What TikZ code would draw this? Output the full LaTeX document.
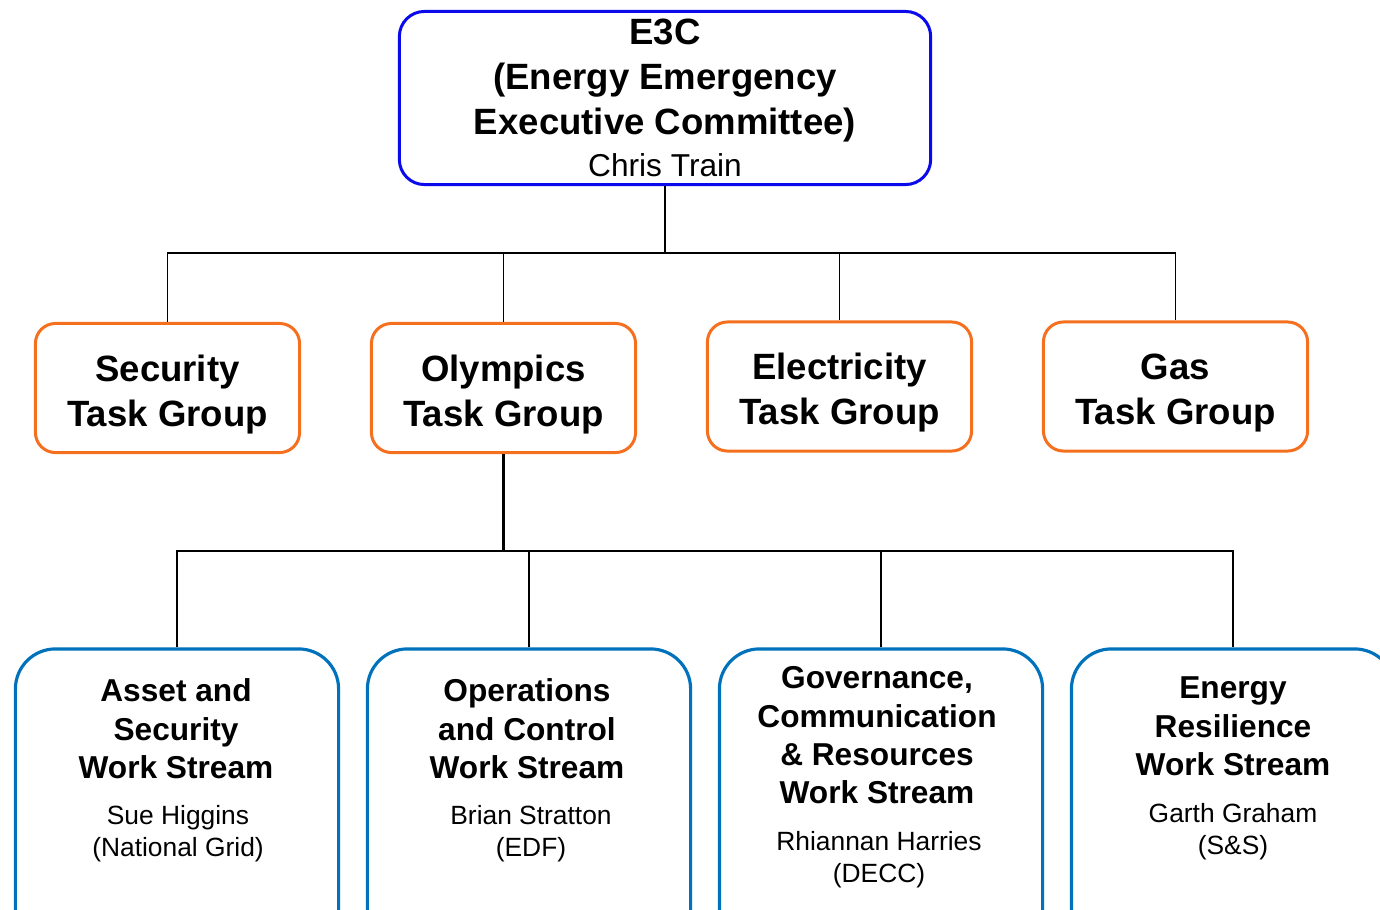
\documentclass[tikz,border=0pt]{standalone}
\usepackage{fontspec}
\setmainfont{Liberation Sans}
\usetikzlibrary{positioning}
\definecolor{chairblue}{RGB}{10,10,235}
\definecolor{grouporange}{RGB}{245,112,30}
\definecolor{streamblue}{RGB}{0,114,188}
\tikzset{
  chairbox/.style={draw=chairblue, line width=0.85pt, rounded corners=0.25cm, minimum width=5.31cm, minimum height=1.73cm, align=center, inner sep=0pt, font=\fontsize{10.4}{12.8}\selectfont\bfseries},
  groupbox/.style={draw=grouporange, line width=0.85pt, rounded corners=0.2cm, minimum width=2.64cm, minimum height=1.29cm, align=center, inner sep=0pt, text height=23.8pt, font=\fontsize{10.4}{12.8}\selectfont\bfseries},
  streambox/.style={draw=streamblue, line width=0.9pt, rounded corners=0.4cm, minimum width=3.23cm, minimum height=3.1cm, inner sep=0pt},
  streamtitle/.style={align=center, inner sep=0pt, font=\fontsize{9}{10.9}\selectfont\bfseries},
  streamlead/.style={align=center, inner sep=0pt, font=\fontsize{7.5}{9.1}\selectfont},
  link/.style={black, line width=0.45pt},
}
\begin{document}
\begin{tikzpicture}[x=0.01cm, y=-0.01cm]
\useasboundingbox (0,0) rectangle (1380,909);
\clip (0,0) rectangle (1380,909);

% committee
\node[chairbox] (e3c) at (665,98) {E3C\\(Energy Emergency\\Executive Committee)\\[-0.9pt]{\mdseries\fontsize{9}{12.8}\selectfont Chris Train}};

% task groups
\node[groupbox] (security) at (167.5,388) {Security\\Task Group};
\node[groupbox] (olympics) at (503.5,388) {Olympics\\Task Group};
\node[groupbox] (electricity) at (839.5,386.5) {Electricity\\Task Group};
\node[groupbox] (gas) at (1175.5,386.5) {Gas\\Task Group};

% work streams
\node[streambox] (asset) at (177,804) {};
\node[streambox] (operations) at (529,804) {};
\node[streambox] (governance) at (881,804) {};
\node[streambox] (resilience) at (1233,804) {};

\node[streamtitle] (assettitle) at (176,729) {Asset and\\Security\\Work Stream};
\node[streamlead] (assetlead) at (178,834) {Sue Higgins\\(National Grid)};
\node[streamtitle] (operationstitle) at (527,729) {Operations\\and Control\\Work Stream};
\node[streamlead] (operationslead) at (531,834) {Brian Stratton\\(EDF)};
\node[streamtitle] (governancetitle) at (877,735.5) {Governance,\\Communication\\\& Resources\\Work Stream};
\node[streamlead] (governancelead) at (879,860) {Rhiannan Harries\\(DECC)};
\node[streamtitle] (resiliencetitle) at (1233,726.5) {Energy\\Resilience\\Work Stream};
\node[streamlead] (resiliencelead) at (1233,832) {Garth Graham\\(S\&S)};

% connectors
\coordinate (bus1) at (665,253);
\coordinate (bus2) at (503.5,551);
\draw[link] (e3c.south) -- (bus1);
\draw[link] (security.north) -- (security.north |- bus1) -- (gas.north |- bus1) -- (gas.north);
\draw[link] (olympics.north) -- (olympics.north |- bus1);
\draw[link] (electricity.north) -- (electricity.north |- bus1);

\draw[link, line width=0.6pt] (olympics.south) -- (bus2);
\draw[link] (asset.north) -- (asset.north |- bus2) -- (resilience.north |- bus2) -- (resilience.north);
\draw[link] (operations.north) -- (operations.north |- bus2);
\draw[link] (governance.north) -- (governance.north |- bus2);
\end{tikzpicture}
\end{document}
